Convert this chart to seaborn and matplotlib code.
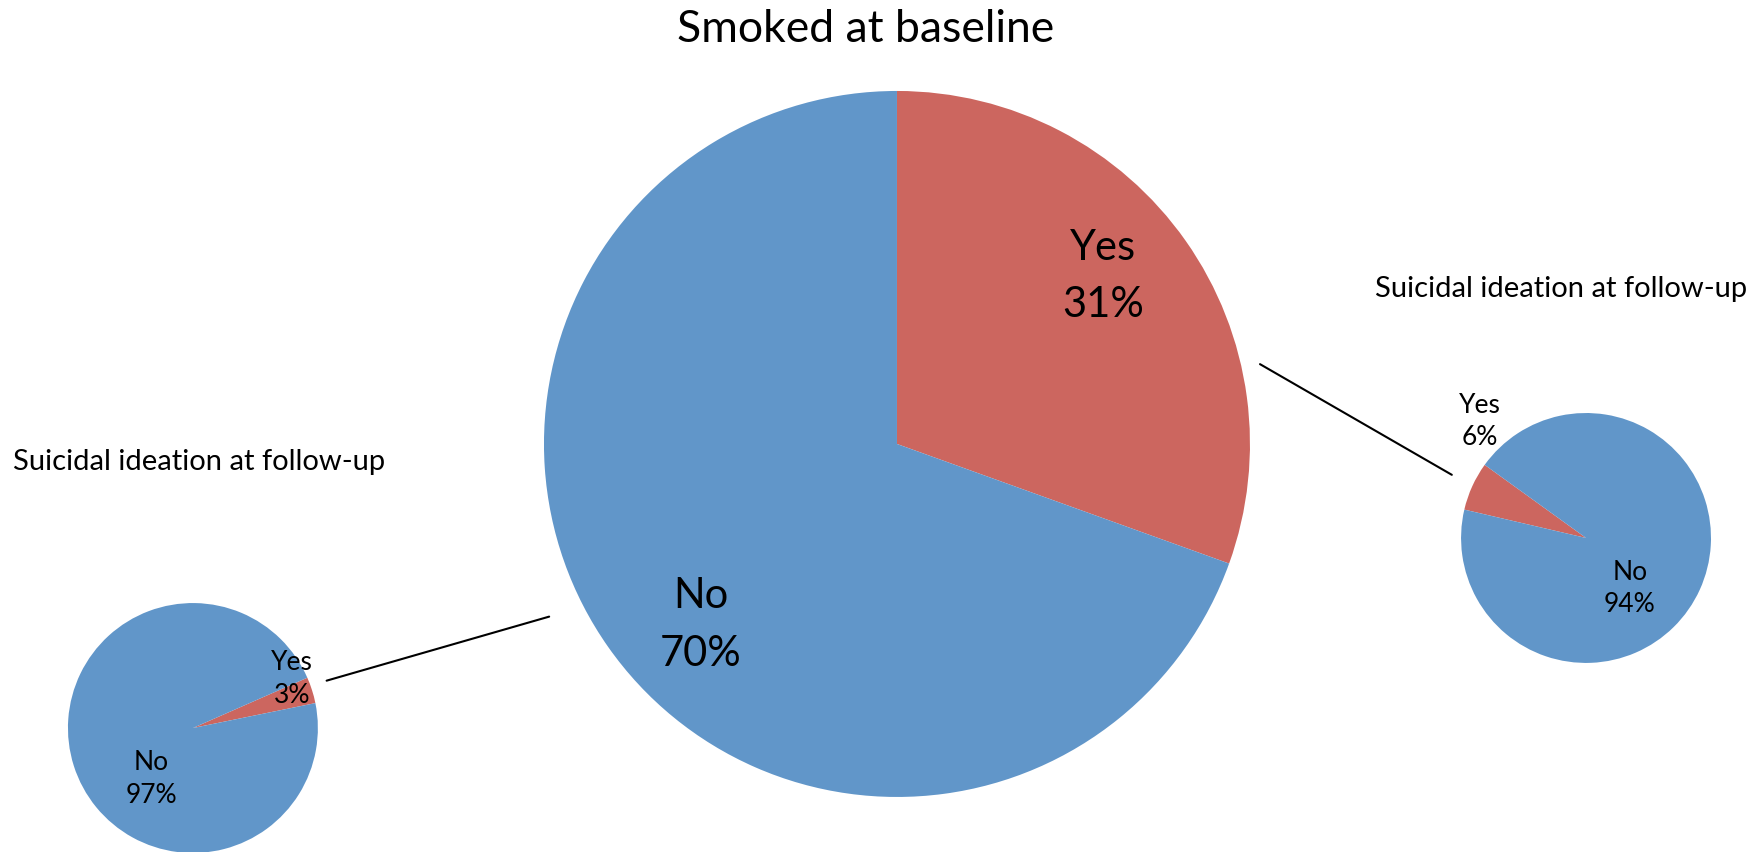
import numpy as np
import seaborn as sns
import matplotlib.pyplot as plt
from matplotlib.patches import ConnectionPatch

# Smoked at baseline (big pie)
smoked_names = ["Yes", "No"]
smoked_values = [30.5, 69.5]
smoked_pct = ["31%", "70%"]

# Suicidal ideation at follow-up, non-smokers (left pie)
nonsmoker_names = ["Yes", "No"]
nonsmoker_values = [3.4, 96.6]
nonsmoker_pct = ["3%", "97%"]

# Suicidal ideation at follow-up, smokers (right pie)
smoker_names = ["Yes", "No"]
smoker_values = [6.3, 93.7]
smoker_pct = ["6%", "94%"]

sns.set_theme(style="white")
plt.rcParams["font.family"] = ["Lato", "DejaVu Sans"]
plt.rcParams["text.color"] = "black"
colors = ["#cc665f", "#6196c9"]

fig = plt.figure(figsize=(17.65, 8.53), dpi=100)


def polar(angle, dist):
    a = np.deg2rad(angle)
    return dist * np.cos(a), dist * np.sin(a)


def draw_pie(rect, values, names, pcts, start, clockwise, label_pos, size, spacing):
    ax = fig.add_axes(rect)
    labels = [f"{n}\n{p}" for n, p in zip(names, pcts)]
    wedges, texts = ax.pie(values, labels=labels, colors=colors,
                           startangle=start, counterclock=not clockwise,
                           wedgeprops=dict(linewidth=0),
                           textprops=dict(fontsize=size, color="black",
                                          linespacing=spacing))
    # put the labels where the original "best fit" placed them
    for t, (ang, dist) in zip(texts, label_pos):
        t.set_position(polar(ang, dist))
        t.set_ha("center")
        t.set_va("center")
    for w in wedges:
        w.set_clip_on(False)
    ax.set_xlim(-1, 1)
    ax.set_ylim(-1, 1)
    ax.axis("off")
    return ax


ax_main = draw_pie([0.3082, 0.0645, 0.4, 0.8277], smoked_values, smoked_names,
                   smoked_pct, 90, True, [(39.3, 0.755), (222.5, 0.755)], 30, 1.62)
ax_left = draw_pie([0.0385, -0.0012, 0.1416, 0.2931], nonsmoker_values,
                   nonsmoker_names, nonsmoker_pct, 11.5, False,
                   [(26.7, 0.89), (230.6, 0.52)], 19, 1.38)
ax_right = draw_pie([0.8278, 0.2216, 0.1416, 0.2931], smoker_values,
                    smoker_names, smoker_pct, 144.2, False,
                    [(132, 1.27), (-48.5, 0.53)], 19, 1.35)

# connector lines between the big pie and the two small ones
for ax_small, a_main, a_small in [(ax_left, (206.4, 1.10), (19.5, 1.135)),
                                  (ax_right, (12.4, 1.053), (154.8, 1.187))]:
    con = ConnectionPatch(xyA=polar(*a_main), coordsA=ax_main.transData,
                          xyB=polar(*a_small), coordsB=ax_small.transData,
                          color="black", linewidth=1.5)
    fig.add_artist(con)

fig.text(0.4907, 0.966, "Smoked at baseline", fontsize=32, ha="center",
         va="center", color="black")
fig.text(0.0074, 0.4584, "Suicidal ideation at follow-up", fontsize=21,
         ha="left", va="center", color="black")
fig.text(0.779, 0.661, "Suicidal ideation at follow-up", fontsize=21,
         ha="left", va="center", color="black")

fig.savefig("out.png", dpi=100)
